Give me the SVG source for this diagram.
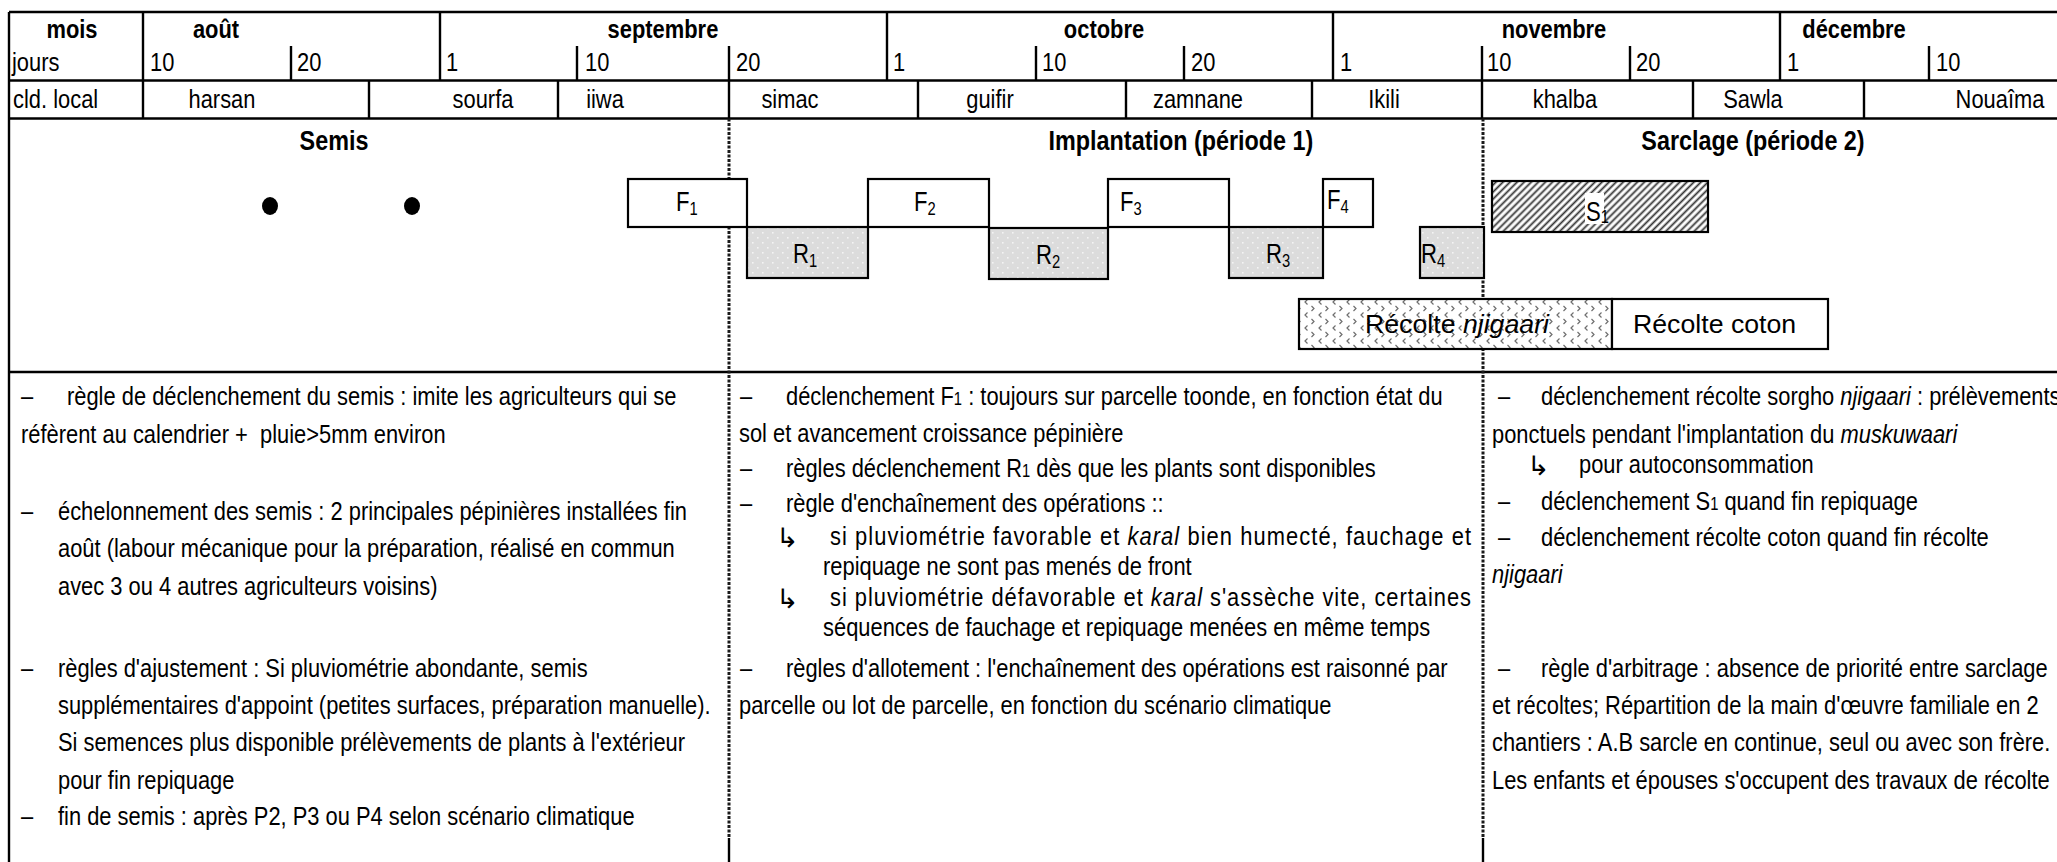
<svg xmlns="http://www.w3.org/2000/svg" width="2057" height="862" viewBox="0 0 2057 862">
<style>
.t{font-family:'Liberation Sans Narrow','Liberation Sans',Arial,sans-serif;font-size:26.7px;fill:#000}
.b{font-weight:bold}
.ttl{font-family:'Liberation Sans',Arial,sans-serif;font-size:28.5px;font-weight:bold;fill:#000}
.g{font-family:'Liberation Sans',Arial,sans-serif;font-size:26.7px;fill:#000}
.lab{font-family:'Liberation Sans',Arial,sans-serif;font-size:27px;fill:#000}
.arr{font-family:'DejaVu Sans',sans-serif;font-size:27px;fill:#000}
.ln{stroke:#000;stroke-width:2.4;fill:none}
.box{stroke:#000;stroke-width:2.2}
.dash{stroke:#1a1a1a;stroke-width:3;stroke-dasharray:3 1.5;fill:none}
.sol{stroke:#000;stroke-width:2.4;fill:none}
.i{font-style:italic}
.m{text-anchor:middle}
</style>
<defs>
<pattern id="dots" width="10" height="10" patternUnits="userSpaceOnUse">
<rect width="10" height="10" fill="#dcdcdc"/>
<rect x="2" y="2" width="1.6" height="1.6" fill="#f4f4f4"/>
<rect x="7" y="7" width="1.6" height="1.6" fill="#f4f4f4"/>
</pattern>
<pattern id="hatch" width="5" height="5" patternUnits="userSpaceOnUse" patternTransform="rotate(45)">
<rect width="5" height="5" fill="#fff"/>
<line x1="1.5" y1="0" x2="1.5" y2="5" stroke="#333" stroke-width="1.8"/>
</pattern>
<pattern id="chev" width="14" height="13" patternUnits="userSpaceOnUse">
<rect width="14" height="13" fill="#fff"/>
<polyline points="5.5,0.5 3,3 5.5,5.5" fill="none" stroke="#6e6e6e" stroke-width="1.2"/>
<polyline points="9.5,7 12,9.5 9.5,12" fill="none" stroke="#6e6e6e" stroke-width="1.2"/>
</pattern>
</defs>

<g id="grid">
<line class="ln" x1="9" y1="12" x2="2057" y2="12"/>
<line class="ln" x1="9" y1="80.5" x2="2057" y2="80.5"/>
<line class="ln" x1="9" y1="118.5" x2="2057" y2="118.5"/>
<line class="ln" x1="9" y1="372" x2="2057" y2="372"/>
<line class="ln" x1="9" y1="12" x2="9" y2="862"/>
<path class="ln" d="M143,12V118.5M440,12V80.5M887,12V80.5M1333,12V80.5M1780,12V80.5"/>
<path class="ln" d="M291,46V80.5M577,46V80.5M729,46V80.5M1036,46V80.5M1184,46V80.5M1482,46V80.5M1630,46V80.5M1929,46V80.5"/>
<path class="ln" d="M369,80.5V118.5M558,80.5V118.5M729,80.5V118.5M918,80.5V118.5M1126,80.5V118.5M1312,80.5V118.5M1482,80.5V118.5M1693,80.5V118.5M1864,80.5V118.5"/>
</g>

<g id="header-text">
<g transform="scale(0.82,1)">
<text class="t b m" x="87.8" y="38">mois</text>
<text class="t b m" x="263.4" y="38">août</text>
<text class="t b m" x="808.5" y="38">septembre</text>
<text class="t b m" x="1346.3" y="38">octobre</text>
<text class="t b m" x="1895.1" y="38">novembre</text>
<text class="t b m" x="2261" y="38">décembre</text>
<text class="t" x="14.6" y="71">jours</text>
<text class="t" x="182.9" y="71">10</text>
<text class="t" x="362.2" y="71">20</text>
<text class="t" x="543.9" y="71">1</text>
<text class="t" x="713.4" y="71">10</text>
<text class="t" x="897.6" y="71">20</text>
<text class="t" x="1089" y="71">1</text>
<text class="t" x="1270.7" y="71">10</text>
<text class="t" x="1452.4" y="71">20</text>
<text class="t" x="1634.1" y="71">1</text>
<text class="t" x="1813.4" y="71">10</text>
<text class="t" x="1995.1" y="71">20</text>
<text class="t" x="2179.3" y="71">1</text>
<text class="t" x="2361" y="71">10</text>
<text class="t" x="15.9" y="108">cld. local</text>
<text class="t m" x="270.7" y="108">harsan</text>
<text class="t m" x="589" y="108">sourfa</text>
<text class="t m" x="737.8" y="108">iiwa</text>
<text class="t m" x="963.4" y="108">simac</text>
<text class="t m" x="1207.3" y="108">guifir</text>
<text class="t m" x="1461" y="108">zamnane</text>
<text class="t m" x="1687.8" y="108">Ikili</text>
<text class="t m" x="1908.5" y="108">khalba</text>
<text class="t m" x="2137.8" y="108">Sawla</text>
<text class="t m" x="2439" y="108">Nouaîma</text>
<text class="ttl m" x="407.3" y="150">Semis</text>
<text class="ttl m" x="1440.2" y="150">Implantation (période 1)</text>
<text class="ttl m" x="2137.8" y="150">Sarclage (période 2)</text>
</g>
</g>

<g id="connectors">
<line class="dash" x1="729" y1="118.5" x2="729" y2="838"/>
<line class="sol" x1="729" y1="838" x2="729" y2="862"/>
<line class="dash" x1="1483" y1="118.5" x2="1483" y2="838"/>
<line class="sol" x1="1483" y1="838" x2="1483" y2="862"/>
</g>

<g id="semis-dots">
<ellipse cx="270" cy="206" rx="8" ry="9" fill="#000"/>
<ellipse cx="412" cy="206" rx="8" ry="9" fill="#000"/>
</g>

<g id="F1"><rect class="box" x="628" y="179" width="119" height="48" fill="#fff"/><text class="lab" transform="scale(0.82,1)" x="824.4" y="211">F<tspan font-size="18" dy="4">1</tspan></text></g>
<g id="R1"><rect class="box" x="747" y="227" width="121" height="51" fill="url(#dots)"/><text class="lab" transform="scale(0.82,1)" x="967.1" y="263">R<tspan font-size="18" dy="4">1</tspan></text></g>
<g id="F2"><rect class="box" x="868" y="179" width="121" height="48" fill="#fff"/><text class="lab" transform="scale(0.82,1)" x="1114.6" y="211">F<tspan font-size="18" dy="4">2</tspan></text></g>
<g id="R2"><rect class="box" x="989" y="228" width="119" height="51" fill="url(#dots)"/><text class="lab" transform="scale(0.82,1)" x="1263.4" y="264">R<tspan font-size="18" dy="4">2</tspan></text></g>
<g id="F3"><rect class="box" x="1108" y="179" width="121" height="48" fill="#fff"/><text class="lab" transform="scale(0.82,1)" x="1365.9" y="211">F<tspan font-size="18" dy="4">3</tspan></text></g>
<g id="R3"><rect class="box" x="1229" y="227" width="94" height="51" fill="url(#dots)"/><text class="lab" transform="scale(0.82,1)" x="1543.9" y="263">R<tspan font-size="18" dy="4">3</tspan></text></g>
<g id="F4"><rect class="box" x="1323" y="179" width="50" height="48" fill="#fff"/><text class="lab" transform="scale(0.82,1)" x="1618.3" y="209">F<tspan font-size="18" dy="4">4</tspan></text></g>
<g id="R4"><rect class="box" x="1420" y="227" width="64" height="51" fill="url(#dots)"/><text class="lab" transform="scale(0.82,1)" x="1732.9" y="263">R<tspan font-size="18" dy="4">4</tspan></text></g>
<g id="S1"><rect class="box" x="1492" y="181" width="216" height="51" fill="url(#hatch)"/><rect x="1585" y="193" width="19" height="31" fill="#fff"/><text class="lab" transform="scale(0.82,1)" x="1934.1" y="221" font-size="29">S<tspan font-size="18" dy="2">1</tspan></text></g>
<g id="recolte-njigaari"><rect class="box" x="1299" y="299" width="313" height="50" fill="url(#chev)"/><text class="g" x="1365" y="333">Récolte <tspan class="i">njigaari</tspan></text></g>
<g id="recolte-coton"><rect class="box" x="1612" y="299" width="216" height="50" fill="#fff"/><text class="g" x="1633" y="333">Récolte coton</text></g>

<g id="col-semis">
<g transform="scale(0.82,1)">
<text class="t" x="25.6" y="405">–</text><text class="t" x="81.7" y="405">règle de déclenchement du semis : imite les agriculteurs qui se</text>
<text class="t" x="25.6" y="443" xml:space="preserve">réfèrent au calendrier +  pluie&gt;5mm environ</text>
<text class="t" x="25.6" y="520">–</text><text class="t" x="70.7" y="520">échelonnement des semis : 2 principales pépinières installées fin</text>
<text class="t" x="70.7" y="557">août (labour mécanique pour la préparation, réalisé en commun</text>
<text class="t" x="70.7" y="595">avec 3 ou 4 autres agriculteurs voisins)</text>
<text class="t" x="25.6" y="677">–</text><text class="t" x="70.7" y="677">règles d'ajustement : Si pluviométrie abondante, semis</text>
<text class="t" x="70.7" y="714">supplémentaires d'appoint (petites surfaces, préparation manuelle).</text>
<text class="t" x="70.7" y="751">Si semences plus disponible prélèvements de plants à l'extérieur</text>
<text class="t" x="70.7" y="789">pour fin repiquage</text>
<text class="t" x="25.6" y="825">–</text><text class="t" x="70.7" y="825">fin de semis : après P2, P3 ou P4 selon scénario climatique</text>
</g>
</g>

<g id="col-implantation">
<g transform="scale(0.82,1)">
<text class="t" x="902.4" y="405">–</text><text class="t" x="958.5" y="405">déclenchement F<tspan font-size="18">1</tspan> : toujours sur parcelle toonde, en fonction état du</text>
<text class="t" x="901.2" y="442">sol et avancement croissance pépinière</text>
<text class="t" x="902.4" y="477">–</text><text class="t" x="958.5" y="477">règles déclenchement R<tspan font-size="18">1</tspan> dès que les plants sont disponibles</text>
<text class="t" x="902.4" y="512">–</text><text class="t" x="958.5" y="512">règle d'enchaînement des opérations ::</text>
<text class="t" x="1012.2" y="545" textLength="781.7" lengthAdjust="spacing">si pluviométrie favorable et <tspan class="i">karal</tspan> bien humecté, fauchage et</text>
<text class="t" x="1003.7" y="575">repiquage ne sont pas menés de front</text>
<text class="t" x="1012.2" y="606" textLength="781.7" lengthAdjust="spacing">si pluviométrie défavorable et <tspan class="i">karal</tspan> s'assèche vite, certaines</text>
<text class="t" x="1003.7" y="636">séquences de fauchage et repiquage menées en même temps</text>
<text class="t" x="902.4" y="677">–</text><text class="t" x="958.5" y="677">règles d'allotement : l'enchaînement des opérations est raisonné par</text>
<text class="t" x="901.2" y="714">parcelle ou lot de parcelle, en fonction du scénario climatique</text>
</g>
<text class="arr" x="776" y="547">↳</text>
<text class="arr" x="776" y="608">↳</text>
</g>

<g id="col-sarclage">
<g transform="scale(0.82,1)">
<text class="t" x="1826.8" y="405">–</text><text class="t" x="1879.3" y="405">déclenchement récolte sorgho <tspan class="i">njigaari</tspan> : prélèvements</text>
<text class="t" x="1819.5" y="443">ponctuels pendant l'implantation du <tspan class="i">muskuwaari</tspan></text>
<text class="t" x="1925.6" y="473">pour autoconsommation</text>
<text class="t" x="1826.8" y="510">–</text><text class="t" x="1879.3" y="510">déclenchement S<tspan font-size="18">1</tspan> quand fin repiquage</text>
<text class="t" x="1826.8" y="546">–</text><text class="t" x="1879.3" y="546">déclenchement récolte coton quand fin récolte</text>
<text class="t i" x="1819.5" y="583">njigaari</text>
<text class="t" x="1826.8" y="677">–</text><text class="t" x="1879.3" y="677">règle d'arbitrage : absence de priorité entre sarclage</text>
<text class="t" x="1819.5" y="714">et récoltes; Répartition de la main d'œuvre familiale en 2</text>
<text class="t" x="1819.5" y="751">chantiers : A.B sarcle en continue, seul ou avec son frère.</text>
<text class="t" x="1819.5" y="789">Les enfants et épouses s'occupent des travaux de récolte</text>
</g>
<text class="arr" x="1527" y="475">↳</text>
</g>
</svg>
